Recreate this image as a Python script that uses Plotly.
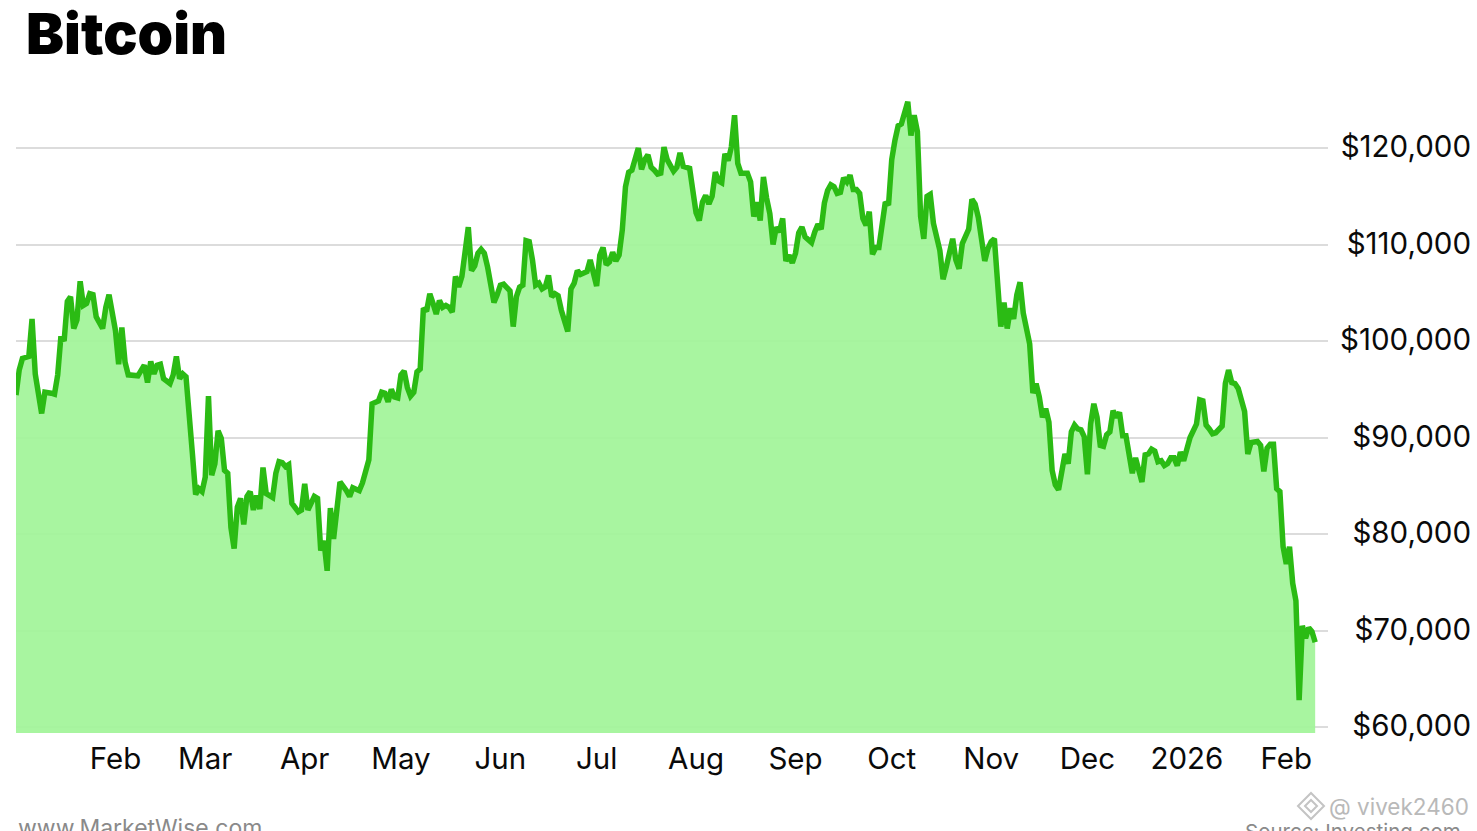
import pandas as pd
import plotly.graph_objects as go

START_DATE = "2025-01-01"

day_offsets = [
    0, 1, 2, 4, 5, 6, 8, 9, 11, 12, 13, 14, 15, 16, 17, 18, 19, 20, 21, 22,
    23, 24, 25, 27, 28, 29, 31, 32, 33, 34, 35, 38, 40, 41, 42, 43, 44, 45, 46, 48,
    49, 50, 51, 52, 53, 54, 55, 56, 57, 58, 59, 60, 61, 62, 63, 64, 65, 66, 67, 68,
    69, 70, 71, 72, 73, 74, 75, 76, 77, 78, 80, 81, 82, 83, 84, 85, 86, 88, 89, 90,
    91, 93, 94, 95, 96, 97, 98, 99, 101, 103, 104, 105, 107, 108, 110, 111, 113, 114, 115, 116,
    117, 118, 119, 120, 121, 122, 123, 124, 125, 126, 127, 128, 129, 130, 131, 132, 133, 134, 135, 136,
    137, 138, 139, 141, 142, 143, 144, 145, 146, 147, 149, 150, 151, 152, 154, 155, 156, 157, 158, 159,
    160, 161, 162, 163, 164, 165, 166, 167, 168, 169, 170, 172, 173, 174, 175, 176, 178, 179, 181, 182,
    183, 184, 185, 186, 187, 188, 189, 190, 191, 192, 194, 195, 196, 197, 198, 199, 200, 201, 202, 203,
    204, 205, 206, 207, 208, 210, 211, 212, 213, 214, 215, 216, 217, 218, 219, 220, 221, 222, 223, 224,
    225, 226, 228, 229, 230, 231, 232, 233, 234, 235, 236, 237, 238, 239, 240, 241, 242, 243, 244, 245,
    246, 248, 249, 250, 251, 252, 253, 254, 255, 256, 257, 258, 259, 260, 261, 262, 263, 264, 265, 266,
    267, 268, 269, 271, 272, 273, 274, 275, 276, 278, 279, 280, 281, 282, 283, 284, 285, 286, 288, 289,
    290, 292, 293, 294, 295, 296, 297, 298, 299, 300, 301, 302, 303, 304, 305, 306, 307, 308, 309, 310,
    311, 312, 313, 314, 315, 316, 317, 318, 319, 320, 321, 322, 323, 324, 325, 326, 327, 328, 329, 330,
    331, 332, 333, 334, 335, 336, 337, 338, 339, 340, 341, 342, 343, 344, 345, 346, 347, 348, 349, 350,
    351, 352, 353, 354, 355, 356, 357, 358, 359, 360, 361, 362, 363, 364, 365, 366, 368, 369, 370, 371,
    372, 373, 374, 376, 377, 378, 379, 380, 381, 382, 383, 384, 385, 387, 388, 389, 390, 391, 392, 393,
    394, 395, 396, 397, 398, 399, 400, 401, 402, 403, 404, 405,
]

btc_prices = [
    94400, 97000, 98200, 98400, 102300, 96600, 92500, 94700, 94600, 94500, 96500, 100500, 100000, 104100, 104600, 101300, 102200, 106200, 103700, 103900,
    104900, 104800, 102500, 101300, 103500, 104800, 101100, 97600, 101400, 97800, 96500, 96400, 97500, 95700, 97900, 96600, 97500, 97600, 96100, 95600,
    96500, 98400, 96100, 96600, 96300, 91400, 88300, 84100, 84700, 84400, 85900, 94300, 86100, 87300, 90700, 89900, 86600, 86300, 80700, 78500,
    82800, 83700, 81000, 83900, 84400, 82500, 84000, 82600, 86900, 84200, 83800, 86300, 87500, 87400, 87000, 87200, 83200, 82300, 82500, 85200,
    82500, 83900, 83700, 78300, 79300, 76200, 82700, 79500, 85400, 84500, 83900, 84800, 84500, 85300, 87700, 93500, 93800, 94700, 94600, 93700,
    95000, 94200, 94100, 96500, 96900, 95200, 94300, 94700, 96800, 97100, 103400, 103100, 104900, 103900, 102800, 104200, 103500, 103700, 103500, 103000,
    106700, 105600, 106700, 111800, 107300, 107800, 109100, 109500, 109100, 107700, 104000, 104800, 105800, 105900, 105200, 101500, 104600, 105600, 105800, 110400,
    110300, 108400, 105800, 106000, 105400, 105600, 106800, 104600, 104900, 104700, 103200, 101000, 105400, 106000, 107300, 106900, 107200, 108400, 105700, 108900,
    109700, 107900, 108200, 109200, 108300, 108900, 111500, 116000, 117500, 117700, 120000, 117800, 118800, 119300, 118000, 117700, 117300, 117400, 120100, 118800,
    118300, 117600, 118000, 119500, 118100, 117900, 115600, 113300, 112500, 114400, 115100, 114200, 115000, 117500, 116600, 116400, 119400, 118700, 120100, 123400,
    118400, 117400, 117400, 116500, 112900, 114400, 112500, 117000, 114800, 113200, 110000, 111800, 111300, 112700, 108300, 108900, 108100, 109100, 111200, 111800,
    110800, 110200, 111300, 112100, 111600, 114300, 115600, 116200, 116000, 115300, 115400, 116900, 116500, 117200, 115700, 115700, 115300, 112700, 112000, 113400,
    109000, 109700, 109700, 114400, 114100, 118800, 120800, 122300, 122500, 124800, 121300, 123400, 121700, 112900, 110600, 115000, 115200, 112200, 109400, 106400,
    107700, 110600, 108400, 107500, 110100, 110800, 111600, 114700, 114200, 112800, 110500, 108300, 109600, 110300, 110600, 106700, 101500, 104000, 101300, 103400,
    102300, 104800, 106100, 102900, 101500, 99700, 94600, 95600, 94200, 92100, 93000, 91600, 86600, 85100, 84600, 86600, 88300, 87300, 90600, 91300,
    90900, 90800, 90100, 86200, 91400, 93500, 92100, 89200, 89100, 90300, 90600, 92800, 92100, 92600, 90200, 90200, 88300, 86300, 87900, 86400,
    85400, 88200, 88300, 88800, 88600, 87500, 87600, 87100, 87300, 87900, 87900, 87100, 88500, 87600, 88700, 90000, 91400, 93900, 93800, 91300,
    90900, 90400, 90500, 91200, 95600, 97000, 95700, 95600, 95100, 93900, 92700, 88300, 89500, 89600, 89200, 86500, 88900, 89300, 89300, 84700,
    84400, 78700, 76900, 78700, 74900, 73100, 62800, 70500, 69200, 70300, 69900, 68800,
]

month_tick_dates = ["2025-02-01", "2025-03-01", "2025-04-01", "2025-05-01", "2025-06-01", "2025-07-01",
                    "2025-08-01", "2025-09-01", "2025-10-01", "2025-11-01", "2025-12-01", "2026-01-01", "2026-02-01"]
month_tick_labels = ["Feb", "Mar", "Apr", "May", "Jun", "Jul", "Aug", "Sep", "Oct", "Nov", "Dec", "2026", "Feb"]
price_ticks = [60000, 70000, 80000, 90000, 100000, 110000, 120000]
price_tick_labels = ["$60,000", "$70,000", "$80,000", "$90,000", "$100,000", "$110,000", "$120,000"]

dates = pd.to_datetime(START_DATE) + pd.to_timedelta(day_offsets, unit="D")

W, H = 1477, 831
L, R, T, B = 16, 1328, 90, 733
FONT = "Inter, 'Noto Sans', sans-serif"

fig = go.Figure(go.Scatter(
    x=dates, y=btc_prices, mode="lines",
    line=dict(color="#2bbb14", width=5.5, shape="linear"),
    fill="tozeroy", fillcolor="rgba(163,244,154,0.94)",
    hoverinfo="skip",
))


def px(x):
    return x / (W - L)


fig.update_layout(
    width=W, height=H, autosize=False,
    margin=dict(l=L, r=0, t=T, b=H - B, pad=0),
    paper_bgcolor="white", plot_bgcolor="white",
    showlegend=False, hovermode=False,
    font=dict(family=FONT, color="#0a0a0a", size=29.5),
    title=dict(text="Bitcoin", x=(27 - 1) / W, xanchor="left", xref="container",
               y=1 - 14 / H, yanchor="top", yref="container",
               font=dict(family=FONT, size=57, weight=900, color="#000000")),
    xaxis=dict(
        domain=[0, (R - L) / (W - L)],
        type="date",
        range=["2025-01-01", "2026-02-14"],
        tickmode="array", tickvals=month_tick_dates, ticktext=month_tick_labels,
        ticks="outside", ticklen=0, tickcolor="rgba(255,255,255,0)",
        showgrid=False, zeroline=False, showline=False,
        tickangle=0,
        tickfont=dict(family=FONT, size=29.5, color="#0a0a0a"),
    ),
    yaxis=dict(
        side="left", anchor="free", position=(1470 + 1 - L) / (W - L),
        range=[59390, 126015],
        tickmode="array", tickvals=price_ticks, ticktext=price_tick_labels,
        ticks="", showline=False, zeroline=False, ticklabelshift=-1,
        showgrid=True, gridcolor="#dcdcdc", gridwidth=2,
        tickfont=dict(family=FONT, size=29.5, color="#0a0a0a"),
    ),
    annotations=[
        dict(text="www.MarketWise.com", xref="paper", yref="paper", x=px(16 - L), y=-(828 - B) / (B - T),
             xanchor="left", yanchor="middle", showarrow=False,
             font=dict(family=FONT, size=23, color="#8a8a8a")),
        dict(text="Source: Investing.com", xref="paper", yref="paper", x=px(1463 - L), y=-(831 - B) / (B - T),
             xanchor="right", yanchor="middle", showarrow=False,
             font=dict(family=FONT, size=20.5, color="#8a8a8a")),
        dict(text="@ vivek2460", xref="paper", yref="paper", x=px(1471 - L), y=-(806 - B) / (B - T),
             xanchor="right", yanchor="middle", showarrow=False,
             font=dict(family=FONT, size=22.5, color="#b9b9b9")),
    ],
)


def diamond(cx, cy, r):
    x0 = px(cx - L)
    y0 = -(cy - B) / (B - T)
    dx, dy = r / (W - L), r / (B - T)
    return (f"M {x0 - dx} {y0} L {x0} {y0 + dy} L {x0 + dx} {y0} L {x0} {y0 - dy} Z")


for r in (13, 6):
    fig.add_shape(type="path", path=diamond(1311, 806, r), xref="paper", yref="paper",
                  line=dict(color="#c4c4c4", width=2), fillcolor="rgba(0,0,0,0)")

fig.write_html("out.html", config={"displayModeBar": False},
               post_script="document.body.style.margin='0';document.documentElement.style.overflow='hidden';")
